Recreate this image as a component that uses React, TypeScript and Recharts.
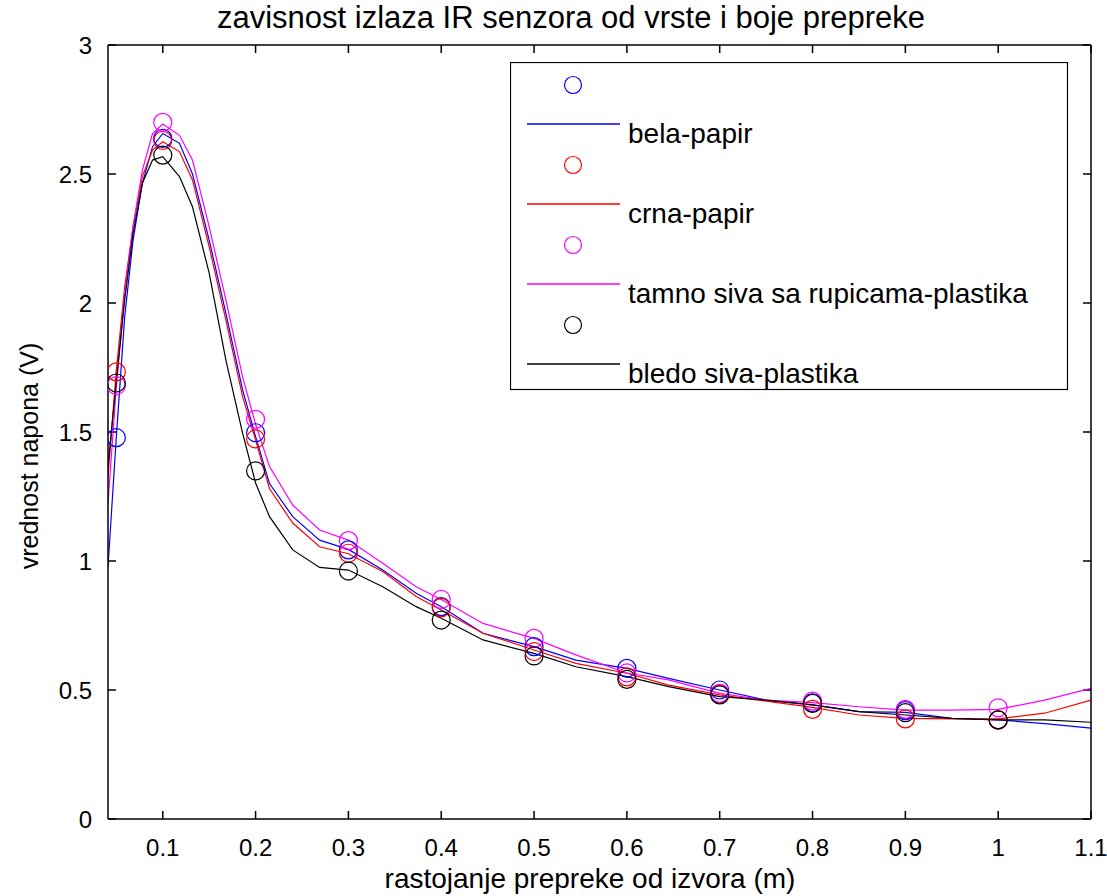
import {
  ComposedChart, Line, Scatter, XAxis, YAxis, Legend, ReferenceLine
} from 'recharts';

// measurement points (markers)
const markerX = [0.05, 0.1, 0.2, 0.3, 0.4, 0.5, 0.6, 0.7, 0.8, 0.9, 1.0];
const belaMarkers = [1.478, 2.638, 1.497, 1.043, 0.823, 0.668, 0.584, 0.5, 0.45, 0.42, 0.384];
const crnaMarkers = [1.733, 2.63, 1.473, 1.03, 0.819, 0.649, 0.551, 0.485, 0.425, 0.388, 0.384];
const tamnoMarkers = [1.68, 2.7, 1.549, 1.079, 0.851, 0.7, 0.566, 0.487, 0.457, 0.425, 0.431];
const bledoMarkers = [1.69, 2.573, 1.349, 0.961, 0.771, 0.632, 0.541, 0.481, 0.448, 0.412, 0.384];

// curves
const lineX = [0.041, 0.05, 0.059, 0.068, 0.078, 0.089, 0.1, 0.118, 0.132, 0.15, 0.168, 0.186, 0.2, 0.215,
  0.24, 0.269, 0.3, 0.337, 0.373, 0.4, 0.445, 0.5, 0.545, 0.6, 0.645, 0.7, 0.75, 0.8, 0.85, 0.9, 0.95, 1.0, 1.05, 1.1];
const belaLine = [0.978, 1.482, 1.947, 2.244, 2.464, 2.606, 2.657, 2.619, 2.5, 2.244, 1.96, 1.663, 1.482, 1.3,
  1.172, 1.081, 1.045, 0.965, 0.875, 0.823, 0.72, 0.668, 0.616, 0.584, 0.545, 0.5, 0.461, 0.442, 0.416, 0.413, 0.39, 0.384, 0.37, 0.352];
const crnaLine = [1.327, 1.74, 2.063, 2.296, 2.49, 2.593, 2.625, 2.587, 2.477, 2.218, 1.934, 1.637, 1.469, 1.28,
  1.147, 1.055, 1.028, 0.959, 0.862, 0.81, 0.72, 0.655, 0.603, 0.565, 0.519, 0.481, 0.457, 0.433, 0.403, 0.39, 0.388, 0.388, 0.41, 0.461];
const tamnoLine = [1.224, 1.676, 2.037, 2.296, 2.515, 2.657, 2.694, 2.65, 2.554, 2.296, 2.012, 1.714, 1.53, 1.366,
  1.217, 1.12, 1.081, 0.991, 0.9, 0.851, 0.758, 0.7, 0.636, 0.566, 0.539, 0.487, 0.461, 0.451, 0.435, 0.422, 0.422, 0.425, 0.461, 0.506];
const bledoLine = [1.366, 1.7, 2.012, 2.27, 2.464, 2.554, 2.567, 2.49, 2.373, 2.116, 1.779, 1.496, 1.302, 1.172,
  1.043, 0.975, 0.965, 0.9, 0.823, 0.778, 0.694, 0.642, 0.59, 0.552, 0.513, 0.474, 0.461, 0.442, 0.416, 0.403, 0.39, 0.384, 0.384, 0.375];

const xTicks = [0.1, 0.2, 0.3, 0.4, 0.5, 0.6, 0.7, 0.8, 0.9, 1, 1.1];
const yTicks = [0, 0.5, 1, 1.5, 2, 2.5, 3];

const X_MIN = 0.041;
const X_MAX = 1.1;
const Y_MAX = 3;
const TICK_DX = 0.0086; // inner tick length in x units (~8px)
const TICK_DY = 0.031;  // inner tick length in y units (~8px)

const series = [
  { name: 'bela-papir', color: '#0000ff', line: belaLine, markers: belaMarkers },
  { name: 'crna-papir', color: '#ff0000', line: crnaLine, markers: crnaMarkers },
  { name: 'tamno siva sa rupicama-plastika', color: '#ff00ff', line: tamnoLine, markers: tamnoMarkers },
  { name: 'bledo siva-plastika', color: '#000000', line: bledoLine, markers: bledoMarkers },
];

const FONT = '"Liberation Sans", Arial, Helvetica, sans-serif';

function LegendBox() {
  return (
    <svg width={559} height={329} style={{ display: 'block' }}>
      <rect x={0.5} y={0.5} width={557} height={327} fill="#fff" stroke="#000" strokeWidth={1.2} />
      {series.map((s, i) => {
        const my = 23 + i * 80;
        const ly = my + 39;
        return (
          <g key={s.name}>
            <circle cx={63} cy={my} r={8.5} fill="none" stroke={s.color} strokeWidth={1.2} />
            <line x1={17} x2={110} y1={ly} y2={ly} stroke={s.color} strokeWidth={1.4} />
            <text x={118} y={ly + 19} fontFamily={FONT} fontSize={28} fill="#000">{s.name}</text>
          </g>
        );
      })}
    </svg>
  );
}

function XTick(p: any) {
  return (
    <text x={p.x} y={p.y} dy="0.72em" textAnchor="middle" fontFamily={FONT} fontSize={24} fill="#000">
      {p.payload.value}
    </text>
  );
}

function YTick(p: any) {
  return (
    <text x={p.x} y={p.y} dy="0.36em" textAnchor="end" fontFamily={FONT} fontSize={24} fill="#000">
      {p.payload.value}
    </text>
  );
}

export default function App() {
  return (
    <div style={{ position: 'absolute', left: 0, top: 0, width: 1107, height: 896, background: '#fff' }}>
      <ComposedChart width={1107} height={896} margin={{ top: 44, right: 15, bottom: 0, left: 0 }}>
        <XAxis
          dataKey="x" type="number" domain={[X_MIN, X_MAX]} ticks={xTicks} allowDataOverflow
          height={77} tickLine={false} tickMargin={14} tick={<XTick />}
          stroke="#000" strokeWidth={1.5}
          label={{
            content: () => (
              <text x={590} y={888} textAnchor="middle" fontFamily={FONT} fontSize={28} fill="#000">
                rastojanje prepreke od izvora (m)
              </text>
            ),
          }}
        />
        <XAxis
          xAxisId="top" orientation="top" dataKey="x" type="number" domain={[X_MIN, X_MAX]} ticks={xTicks}
          allowDataOverflow height={1} tickLine={false} tick={false} stroke="#000" strokeWidth={1.5}
          label={{
            content: () => (
              <text x={571} y={28} textAnchor="middle" fontFamily={FONT} fontSize={31} fill="#000">
                zavisnost izlaza IR senzora od vrste i boje prepreke
              </text>
            ),
          }}
        />
        <YAxis
          type="number" domain={[0, Y_MAX]} ticks={yTicks} width={108} tickLine={false} tickMargin={10}
          tick={<YTick />} stroke="#000" strokeWidth={1.5}
          label={{
            content: () => (
              <text x={38} y={456} transform="rotate(-90 38 456)" textAnchor="middle"
                fontFamily={FONT} fontSize={25} fill="#000">
                vrednost napona (V)
              </text>
            ),
          }}
        />
        <YAxis
          yAxisId="right" orientation="right" type="number" domain={[0, Y_MAX]} ticks={yTicks} width={1}
          tickLine={false} tick={false} stroke="#000" strokeWidth={1.5}
        />
        {xTicks.map((t) => (
          <ReferenceLine key={'xb' + t} segment={[{ x: t, y: 0 }, { x: t, y: TICK_DY }]}
            stroke="#000" strokeWidth={1.5} ifOverflow="visible" />
        ))}
        {xTicks.map((t) => (
          <ReferenceLine key={'xt' + t} segment={[{ x: t, y: Y_MAX }, { x: t, y: Y_MAX - TICK_DY }]}
            stroke="#000" strokeWidth={1.5} ifOverflow="visible" />
        ))}
        {yTicks.map((t) => (
          <ReferenceLine key={'yl' + t} segment={[{ x: X_MIN, y: t }, { x: X_MIN + TICK_DX, y: t }]}
            stroke="#000" strokeWidth={1.5} ifOverflow="visible" />
        ))}
        {yTicks.map((t) => (
          <ReferenceLine key={'yr' + t} segment={[{ x: X_MAX, y: t }, { x: X_MAX - TICK_DX, y: t }]}
            stroke="#000" strokeWidth={1.5} ifOverflow="visible" />
        ))}
        {series.map((s) => (
          <Line
            key={s.name + '-line'}
            data={lineX.map((x, i) => ({ x, y: s.line[i] }))}
            dataKey="y" type="linear" stroke={s.color} strokeWidth={1.2}
            dot={false} activeDot={false} isAnimationActive={false} legendType="none"
          />
        ))}
        {series.map((s) => (
          <Scatter
            key={s.name + '-pts'}
            data={markerX.map((x, i) => ({ x, y: s.markers[i] }))}
            dataKey="y" isAnimationActive={false} legendType="none"
            shape={(p: any) => (
              <circle cx={p.cx} cy={p.cy} r={9} fill="none" stroke={s.color} strokeWidth={1.2} />
            )}
          />
        ))}
        <Legend
          layout="vertical" align="center" verticalAlign="middle"
          wrapperStyle={{ position: 'absolute', left: 510, top: 62, width: 559, height: 329 }}
          content={() => <LegendBox />}
        />
      </ComposedChart>
    </div>
  );
}
